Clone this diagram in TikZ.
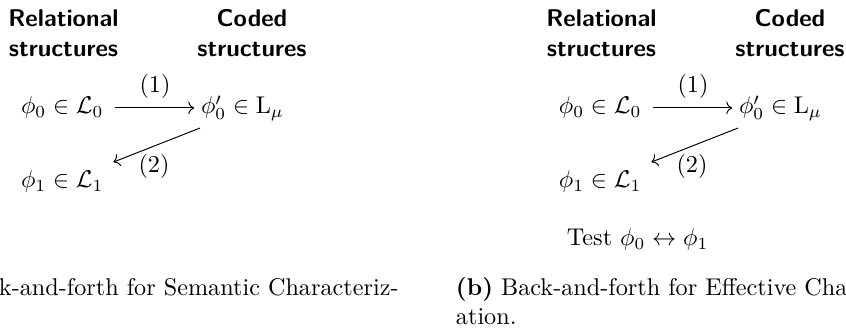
\documentclass[tikz,border=0pt]{standalone}
\usepackage{amsmath,amssymb}
\usetikzlibrary{arrows.meta}
\begin{document}
\begin{tikzpicture}[x=0.4132pt,y=-0.4132pt,
  txt/.style={inner sep=0pt, outer sep=0pt, anchor=base west},
  lbl/.style={inner sep=0pt, outer sep=0pt, anchor=center},
  hdr/.style={inner sep=0pt, outer sep=0pt, anchor=base, font=\sffamily\bfseries},
  arr/.style={-{Computer Modern Rightarrow}, line width=0.4pt}]
\useasboundingbox (0,0) rectangle (846,336);

% ---------- left panel ----------
\node[hdr] (hl1) at (63.5,27) {\begin{tabular}[t]{@{}c@{}}Relational\\structures\end{tabular}};
\node[hdr] (hl2) at (252,27) {\begin{tabular}[t]{@{}c@{}}Coded\\structures\end{tabular}};
\node[txt] (la0) at (21,114) {$\phi_0 \in \mathcal{L}_0$};
\node[txt] (lb0) at (201,114) {$\phi_0' \in \mathrm{L}_\mu$};
\node[txt] (la1) at (21,188) {$\phi_1 \in \mathcal{L}_1$};
\draw[arr] ([xshift=4.9pt,yshift=2.5pt]la0.base east) -- ([xshift=-2.8pt,yshift=2.5pt]lb0.base west);
\draw[arr] ([xshift=-0.4pt,yshift=-5.8pt]lb0.base west) -- ([xshift=4.1pt,yshift=10.7pt]la1.base east);
\node[lbl] (l1) at (155,86) {$(1)$};
\node[lbl] (l2) at (154,166) {$(2)$};
\node[txt] (capl) at (-1,296) {k-and-forth for Semantic Characteriz-};

% ---------- right panel ----------
\node[hdr] (hr1) at (601.5,27) {\begin{tabular}[t]{@{}c@{}}Relational\\structures\end{tabular}};
\node[hdr] (hr2) at (790,27) {\begin{tabular}[t]{@{}c@{}}Coded\\structures\end{tabular}};
\node[txt] (ra0) at (559,114) {$\phi_0 \in \mathcal{L}_0$};
\node[txt] (rb0) at (739,114) {$\phi_0' \in \mathrm{L}_\mu$};
\node[txt] (ra1) at (559,188) {$\phi_1 \in \mathcal{L}_1$};
\draw[arr] ([xshift=4.9pt,yshift=2.5pt]ra0.base east) -- ([xshift=-2.8pt,yshift=2.5pt]rb0.base west);
\draw[arr] ([xshift=-0.4pt,yshift=-5.8pt]rb0.base west) -- ([xshift=4.1pt,yshift=10.7pt]ra1.base east);
\node[lbl] (r1) at (693,86) {$(1)$};
\node[lbl] (r2) at (692,166) {$(2)$};
\node[txt] (test) at (567,246) {Test $\phi_0 \leftrightarrow \phi_1$};
\node[txt] (capr) at (456,296) {\textbf{(b)} Back-and-forth for Effective Cha};
\node[txt] (capr2) at (456,325) {ation.};
\end{tikzpicture}
\end{document}
